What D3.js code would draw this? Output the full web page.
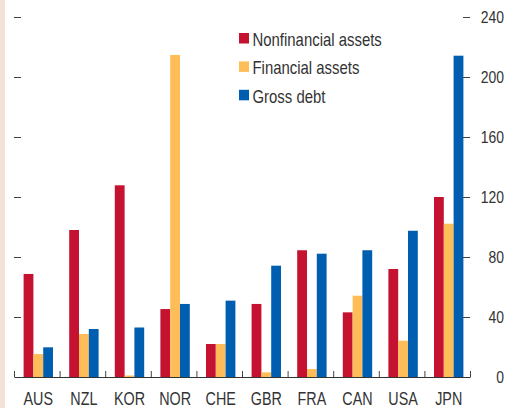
<!DOCTYPE html>
<html>
<head>
<meta charset="utf-8">
<script src="https://cdn.jsdelivr.net/npm/d3@7.9.0/dist/d3.min.js"></script>
<style>
  body { margin: 0; background: #fff; }
  svg { display: block; font-family: "Liberation Sans", Arial, sans-serif; }
  .tick text { fill: #333; }
  .tick line { stroke: #444; }
</style>
</head>
<body>
<div id="chart"></div>
<script>
const countries = ['AUS', 'NZL', 'KOR', 'NOR', 'CHE', 'GBR', 'FRA', 'CAN', 'USA', 'JPN'];
const seriesNames = ['Nonfinancial assets', 'Financial assets', 'Gross debt'];
const nonfinancial = [68.7, 98, 127.8, 45.3, 22, 48.7, 84.5, 43.1, 72, 120];
const financial = [15.3, 28.7, 1, 214.7, 22, 3.1, 5.3, 54.2, 24.2, 102.2];
const grossDebt = [19.8, 32, 33, 48.7, 50.9, 74.2, 82.2, 84.5, 97.5, 214.2];
const yTicks = [0, 40, 80, 120, 160, 200, 240];
const colors = ['#c41230', '#ffbd59', '#005eb0'];

const width = 507;
const height = 408;
const plot = { left: 14, right: 470, top: 17, bottom: 377 };
const narrow = 0.82; // squeeze text to look like a condensed face

const svg = d3.select('#chart')
  .append('svg')
  .attr('width', width)
  .attr('height', height);

// pale strip down the left edge
svg.append('rect')
  .attr('x', 0).attr('y', 0)
  .attr('width', 5).attr('height', height)
  .attr('fill', '#f3e1d8');

const x0 = d3.scaleBand().domain(countries).range([plot.left, plot.right]);
const groupW = 29.4;
const x1 = d3.scaleBand().domain(seriesNames).range([0, groupW]);
const y = d3.scaleLinear().domain([0, 240]).range([plot.bottom, plot.top]);
const shift = (x0.bandwidth() - groupW) / 2 + 1.5;

const rows = countries.map((c, i) => ({
  country: c,
  values: [nonfinancial[i], financial[i], grossDebt[i]]
}));

// bars
const groups = svg.append('g')
  .selectAll('g')
  .data(rows)
  .join('g')
  .attr('transform', d => `translate(${x0(d.country) + shift},0)`);

groups.selectAll('rect')
  .data(d => d.values.map((v, k) => ({ key: seriesNames[k], value: v, k })))
  .join('rect')
  .attr('x', d => x1(d.key))
  .attr('width', x1.bandwidth())
  .attr('y', d => y(d.value))
  .attr('height', d => y(0) - y(d.value))
  .attr('fill', d => colors[d.k]);

// left ticks (no labels)
svg.append('g')
  .attr('transform', `translate(${plot.left},0)`)
  .call(d3.axisLeft(y).tickValues(yTicks.slice(1)).tickSize(-7).tickFormat(''))
  .call(g => g.select('.domain').remove());

// right ticks with labels
svg.append('g')
  .attr('transform', `translate(${plot.right},0)`)
  .call(d3.axisRight(y).tickValues(yTicks).tickSize(-7).tickPadding(34))
  .call(g => g.select('.domain').remove())
  .call(g => g.selectAll('.tick line').filter(d => d === 0).remove())
  .call(g => g.selectAll('.tick text')
    .attr('text-anchor', 'end')
    .attr('font-size', 17)
    .attr('x', 34 / narrow)
    .attr('transform', `scale(${narrow},1)`));

// baseline with boundary ticks between countries
const xi = d3.scaleLinear().domain([0, countries.length]).range([plot.left, plot.right]);
svg.append('g')
  .attr('transform', `translate(0,${plot.bottom})`)
  .call(d3.axisBottom(xi).ticks(countries.length).tickSize(-6).tickSizeOuter(0).tickFormat(''))
  .call(g => g.select('.domain').attr('stroke', '#333').attr('stroke-width', 1.2));

// country labels
svg.append('g')
  .attr('transform', `translate(${1.5},${plot.bottom})`)
  .call(d3.axisBottom(x0).tickSize(0).tickPadding(16))
  .call(g => g.select('.domain').remove())
  .call(g => g.selectAll('.tick text')
    .attr('font-size', 17.5)
    .attr('transform', `scale(${narrow},1)`));

// legend
const legend = svg.append('g')
  .attr('transform', 'translate(239,33)')
  .selectAll('g')
  .data(seriesNames)
  .join('g')
  .attr('transform', (d, i) => `translate(0,${i * 28.4})`);

legend.append('rect')
  .attr('width', 10).attr('height', 10.5)
  .attr('fill', (d, i) => colors[i]);

legend.append('text')
  .attr('transform', `translate(13.5,13) scale(${narrow},1)`)
  .attr('fill', '#333')
  .attr('font-size', 18.2)
  .text(d => d);
</script>
</body>
</html>
